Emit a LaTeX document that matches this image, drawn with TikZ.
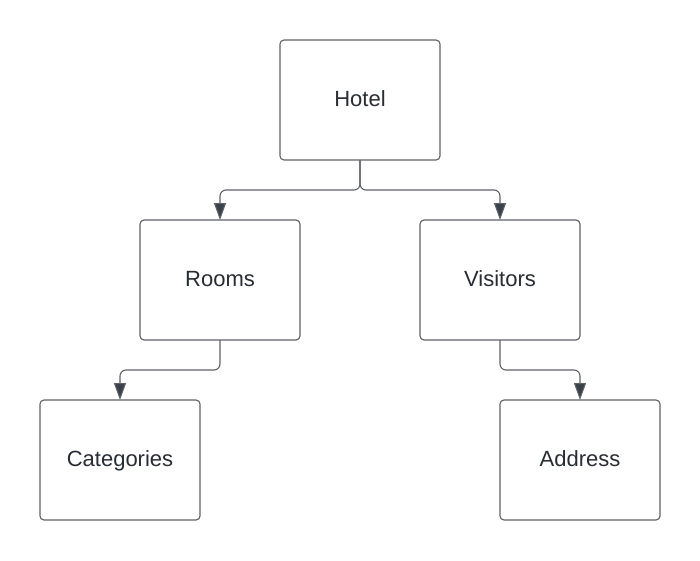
\documentclass[tikz,border=0pt]{standalone}
\usepackage{fontspec}
\setmainfont{Liberation Sans}
\usepackage{tikz}
\usetikzlibrary{arrows.meta, positioning}

\definecolor{boxline}{HTML}{5E6166}
\definecolor{textcol}{HTML}{282C33}
\definecolor{tipcol}{HTML}{3A414A}

\begin{document}
\begin{tikzpicture}[
  x=1pt, y=1pt,
  node distance=60pt,
  box/.style={rectangle, rounded corners=4pt, draw=boxline, line width=1.1pt,
              fill=white, minimum width=160pt, minimum height=120pt,
              inner sep=0pt, outer sep=0pt, text=textcol,
              text height=16pt, text depth=4pt,
              font=\fontsize{22}{26}\selectfont},
  arrow/.style={draw=boxline, line width=1.1pt, rounded corners=6pt,
                -{Triangle[length=17pt, width=12pt, fill=tipcol]}}
]
\useasboundingbox (0,0) rectangle (700,-560);

% Top level
\node[box] (hotel) at (360,-100) {Hotel};

% Second level
\node[box, below=60pt of hotel, xshift=-140pt] (rooms) {Rooms};
\node[box, below=60pt of hotel, xshift=140pt] (visitors) {Visitors};

% Third level
\node[box, below=60pt of rooms, xshift=-100pt] (cat) {Categories};
\node[box, below=60pt of visitors, xshift=80pt] (addr) {Address};

% Arrows
\draw[arrow] (hotel.south) -- ++(0,-30) -| (rooms.north);
\draw[arrow] (hotel.south) -- ++(0,-30) -| (visitors.north);
\draw[arrow] (rooms.south) -- ++(0,-30) -| (cat.north);
\draw[arrow] (visitors.south) -- ++(0,-30) -| (addr.north);
\end{tikzpicture}
\end{document}
